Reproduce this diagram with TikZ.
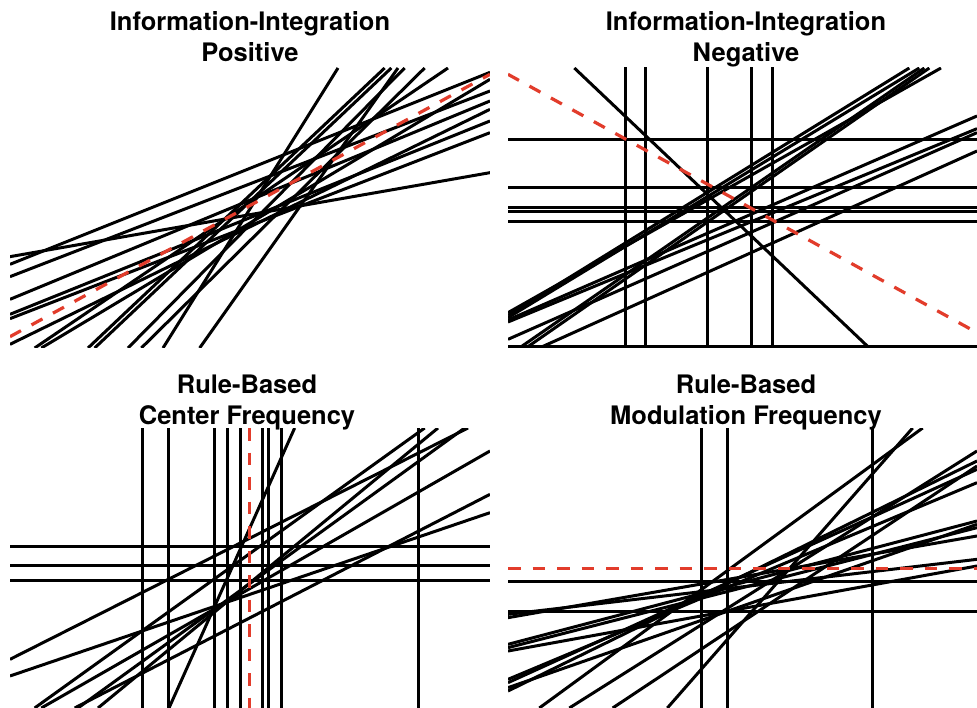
\documentclass[tikz,border=0pt]{standalone}
\usepackage{fontspec}
\setmainfont{TeX Gyre Heros}
\definecolor{dashred}{RGB}{226,60,43}
\tikzset{
  dataline/.style={line width=3pt, draw=black},
  refline/.style={line width=3.2pt, draw=dashred, dash pattern=on 12.5pt off 12pt},
  paneltitle/.style={font=\bfseries\fontsize{25.5}{31}\selectfont, anchor=base, inner sep=0pt}
}
\begin{document}
\begin{tikzpicture}[x=1pt,y=-1pt]
\fill[white] (0,0) rectangle (977,708);
\useasboundingbox (0,0) rectangle (977,708);

% ---------- Top-left: Information-Integration Positive ----------
\begin{scope}[shift={(8pt,-66pt)}, x=0.33333pt, y=-0.33333pt]
\clip (6,6) rectangle (1446,846);
\foreach \a/\b/\c/\d in {6/572/1446/320, 6/595/1446/19, 6/632/1446/75, 6/700/1446/105,
  6/745/1446/165, 6/758/1446/200, 6/835/1446/130, 80/846/1320/6, 100/846/1446/40,
  240/846/1130/6, 260/846/1150/6, 360/846/1190/6, 400/846/1250/6, 465/846/990/6,
  575/846/1170/6}
  \draw[dataline] (\a,\b) -- (\c,\d);
\draw[refline] (6,812) -- (1446,25);
\end{scope}

% ---------- Top-right: Information-Integration Negative ----------
\begin{scope}[shift={(506pt,-66pt)}, x=0.33333pt, y=-0.33333pt]
\clip (6,6) rectangle (1413,846);
\foreach \v in {357,417,603,735,798}
  \draw[dataline] (\v,0) -- (\v,850);
\foreach \h in {220,365,425,437,467,843}
  \draw[dataline] (0,\h) -- (1420,\h);
\draw[dataline] (205,6) -- (1090,846);
\foreach \a/\b/\c/\d in {6/748/1210/6, 6/755/1240/6, 6/762/1413/150, 6/768/1413/188,
  6/820/1413/200, 40/846/1255/6, 60/846/1270/6, 100/846/1413/255, 6/740/1305/6}
  \draw[dataline] (\a,\b) -- (\c,\d);
\draw[refline] (6,25) -- (1413,800);
\end{scope}

% ---------- Bottom-left: Rule-Based Center Frequency ----------
\begin{scope}[shift={(8pt,-426pt)}, x=0.33333pt, y=-0.33333pt]
\clip (6,6) rectangle (1446,846);
\foreach \v in {405,483,620,660,697,765,782,820,1232}
  \draw[dataline] (\v,0) -- (\v,850);
\foreach \h in {360,418,463}
  \draw[dataline] (0,\h) -- (1450,\h);
\foreach \a/\b/\c/\d in {483/846/860/6, 6/700/1380/6, 6/750/1446/260, 80/846/1250/6,
  100/846/1446/75, 200/846/1446/205, 270/846/1290/6, 210/846/1370/6}
  \draw[dataline] (\a,\b) -- (\c,\d);
\draw[refline] (725,6) -- (725,846);
\end{scope}

% ---------- Bottom-right: Rule-Based Modulation Frequency ----------
\begin{scope}[shift={(506pt,-426pt)}, x=0.33333pt, y=-0.33333pt]
\clip (6,6) rectangle (1413,846);
\foreach \v in {586,664,1098}
  \draw[dataline] (\v,0) -- (\v,850);
\foreach \h in {467,557}
  \draw[dataline] (0,\h) -- (1420,\h);
\foreach \a/\b/\c/\d in {6/565/1413/400, 6/575/1413/330, 6/655/1413/285, 6/665/1413/305,
  6/675/1413/420, 6/760/1413/170, 6/770/1413/130, 6/785/1413/295, 6/795/1413/105,
  100/846/1250/6, 190/846/1413/75, 320/846/1413/120, 484/846/1220/6}
  \draw[dataline] (\a,\b) -- (\c,\d);
\draw[refline] (6,428) -- (1413,428);
\end{scope}

% ---------- Titles ----------
\node[paneltitle] (t1a) at (250,31) {Information-Integration};
\node[paneltitle] (t1b) at (250,62) {Positive};
\node[paneltitle] (t2a) at (746,31) {Information-Integration};
\node[paneltitle] (t2b) at (746,62) {Negative};
\node[paneltitle] (t3a) at (247,393) {Rule-Based};
\node[paneltitle] (t3b) at (247,424) {Center Frequency};
\node[paneltitle] (t4a) at (746,393) {Rule-Based};
\node[paneltitle] (t4b) at (746,424) {Modulation Frequency};
\end{tikzpicture}
\end{document}
